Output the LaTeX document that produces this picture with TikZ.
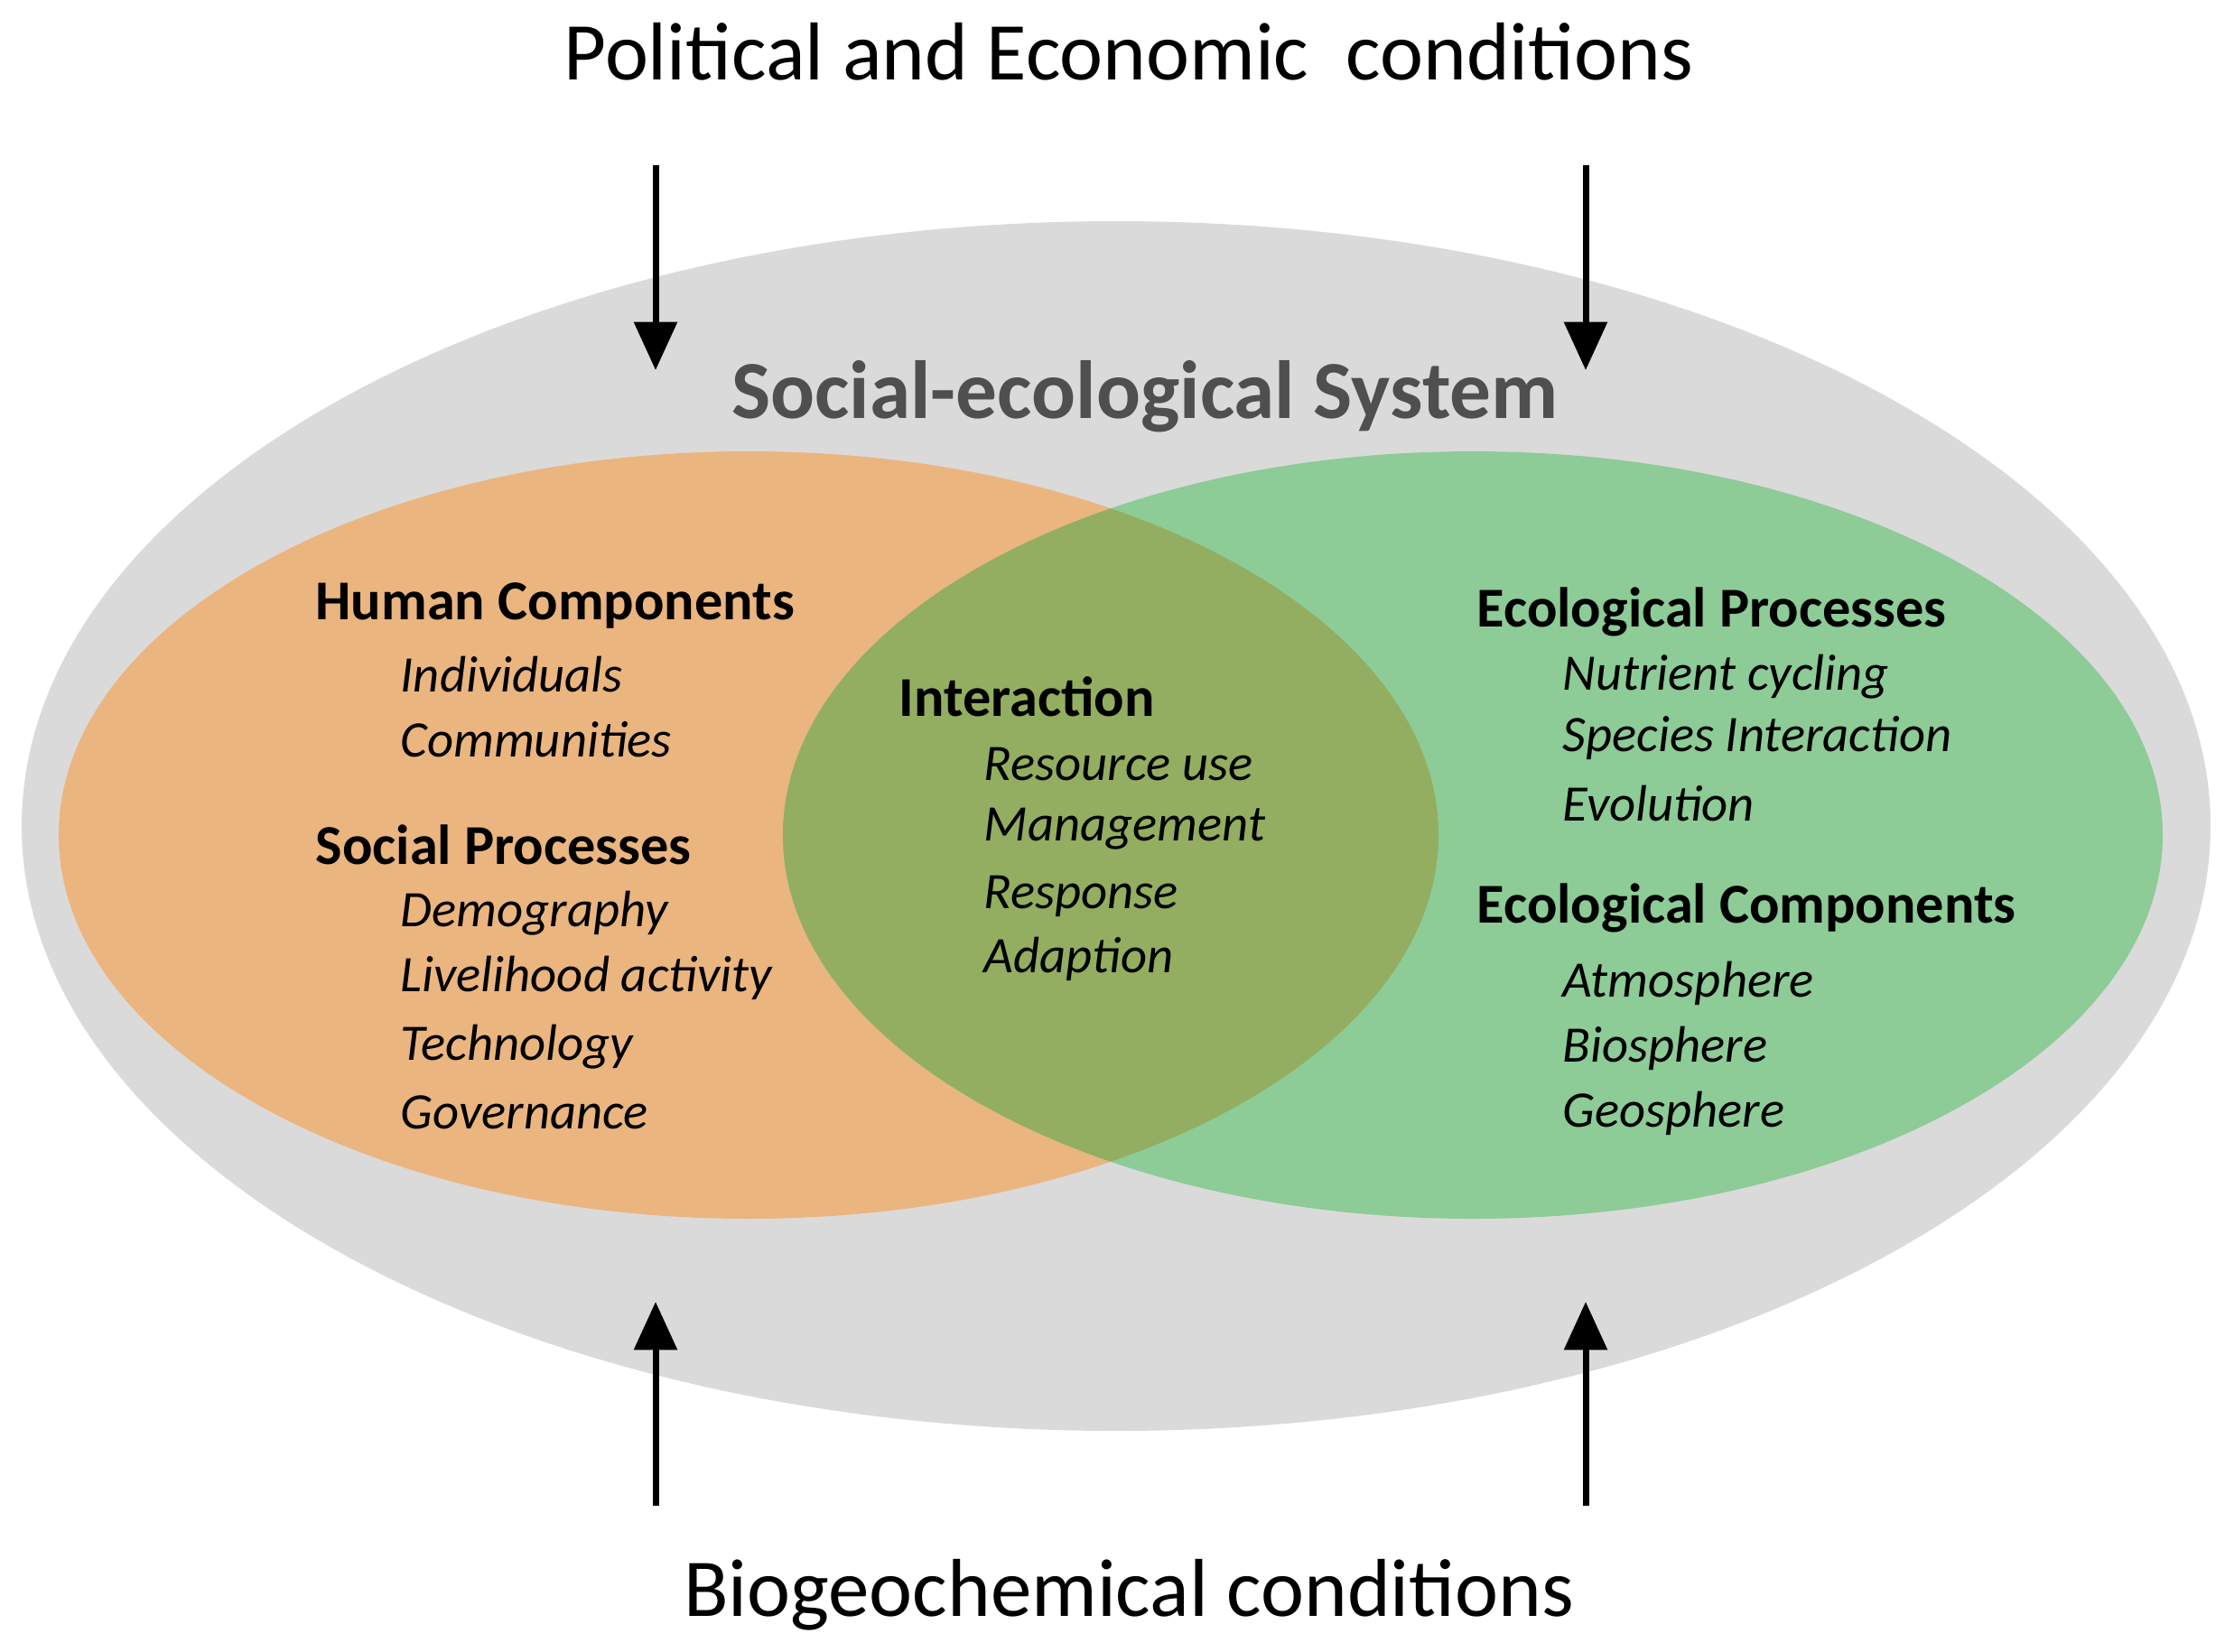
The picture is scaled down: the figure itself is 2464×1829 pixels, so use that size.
\documentclass[tikz,border=0pt]{standalone}
\usepackage{fontspec}
\setmainfont{Carlito}
\usetikzlibrary{arrows.meta}

\definecolor{sysgray}{HTML}{DADADA}
\definecolor{humanorange}{HTML}{EBB57F}
\definecolor{ecogreen}{HTML}{8DCB97}
\definecolor{overlapgreen}{HTML}{93AE60}
\definecolor{systext}{HTML}{4F4F4F}

\tikzset{
  cond/.style={anchor=base, inner sep=0, font=\fontsize{27.3}{32}\selectfont},
  head/.style={anchor=base west, inner sep=0, font=\bfseries\fontsize{18.7}{22}\selectfont},
  item/.style={anchor=base west, inner sep=0, font=\itshape\fontsize{17}{20}\selectfont},
  driver/.style={->, line width=2.1pt, line cap=butt}
}

\begin{document}
\begin{tikzpicture}[x=0.3pt, y=-0.3pt, line join=round, >={Triangle[length=16pt, width=14pt]}]

    % Canvas
    \useasboundingbox (0,0) rectangle (2464,1829);

    % Define radii of the two sets
    \def\setrx{764}
    \def\setry{425}

    % System
    \fill[sysgray] (1236,915) ellipse [x radius=1212, y radius=670];
    \node[anchor=base, inner sep=0, text=systext, font=\bfseries\fontsize{27.4}{32}\selectfont] (sys) at (1268,463) {Social-ecological System};

    % Human and ecological sets
    \fill[humanorange] (829,925) ellipse [x radius=\setrx, y radius=\setry];
    \fill[ecogreen] (1631,925) ellipse [x radius=\setrx, y radius=\setry];
    \begin{scope}
        \clip (829,925) ellipse [x radius=\setrx, y radius=\setry];
        \fill[overlapgreen] (1631,925) ellipse [x radius=\setrx, y radius=\setry];
    \end{scope}

    % Conditions
    \node[cond] (pol) at (1250,88) {Political and Economic\ \ conditions};
    \node[cond] (bio) at (1250,1790) {Biogeochemical conditions};

    % Drivers
    \coordinate (polL) at (726,183);
    \coordinate (polR) at (1756,183);
    \coordinate (sysTL) at (726,410);
    \coordinate (sysTR) at (1756,410);
    \coordinate (bioL) at (726,1668);
    \coordinate (bioR) at (1756,1668);
    \coordinate (sysBL) at (726,1442);
    \coordinate (sysBR) at (1756,1442);
    \draw[driver] (polL) -- (sysTL);
    \draw[driver] (polR) -- (sysTR);
    \draw[driver] (bioL) -- (sysBL);
    \draw[driver] (bioR) -- (sysBR);

    % Human side
    \node[head] (hc) at (349,686) {Human Components};
    \node[item] (indiv) at (443,766) {Individuals};
    \node[item] (commun) at (443,838) {Communities};
    \node[head] (sp) at (349,957) {Social Processes};
    \node[item] (demo) at (443,1026) {Demography};
    \node[item] (live) at (443,1098) {Livelihood activity};
    \node[item] (tech) at (443,1174) {Technology};
    \node[item] (gov) at (443,1250) {Governance};

    % Interaction
    \node[head] (inter) at (995,793) {Interaction};
    \node[item] (res) at (1089,864) {Resource use};
    \node[item] (man) at (1089,931) {Management};
    \node[item] (resp) at (1089,1006) {Response};
    \node[item] (adapt) at (1089,1077) {Adaption};

    % Ecological side
    \node[head] (ep) at (1635,694) {Ecological Processes};
    \node[item] (nut) at (1730,764) {Nutrient cycling};
    \node[item] (spec) at (1730,832) {Species Interaction};
    \node[item] (evo) at (1730,909) {Evolution};
    \node[head] (ec) at (1635,1022) {Ecological Components};
    \node[item] (atmo) at (1730,1104) {Atmosphere};
    \node[item] (bios) at (1730,1176) {Biosphere};
    \node[item] (geo) at (1730,1248) {Geosphere};

\end{tikzpicture}
\end{document}
